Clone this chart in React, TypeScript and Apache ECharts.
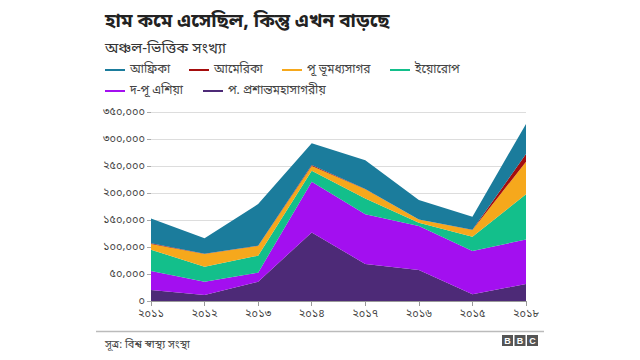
import React, { useEffect, useRef } from "react";
import * as echarts from "echarts";

const years = ["২০১১", "২০১২", "২০১৩", "২০১৪", "২০১৭", "২০১৬", "২০১৫", "২০১৮"];
const yTickLabels = ["০", "৫০,০০০", "১০০,০০০", "১৫০,০০০", "২০০,০০০", "২৫০,০০০", "৩০০,০০০", "৩৫০,০০০"];

const pacific = [20400, 11000, 35800, 127000, 68500, 57400, 12300, 31500];
const seAsia = [35200, 24800, 16700, 94000, 92000, 81600, 80300, 82500];
const europe = [39400, 27800, 31500, 20000, 29500, 6000, 26400, 83600];
const eastMed = [10600, 23400, 17900, 9000, 17000, 6000, 12500, 60400];
const americas = [1200, 500, 500, 2000, 600, 100, 500, 14000];
const africa = [46000, 28500, 77000, 40000, 53000, 36000, 24000, 56000];

const names = {
  africa: "আফ্রিকা",
  americas: "আমেরিকা",
  eastMed: "পূ ভূমধ্যসাগর",
  europe: "ইয়োরোপ",
  seAsia: "দ-পূ এশিয়া",
  pacific: "প. প্রশান্তমহাসাগরীয়",
};

const colors = {
  africa: "#1b7c9c",
  americas: "#a50d0d",
  eastMed: "#f6a81c",
  europe: "#13bf8b",
  seAsia: "#a30ff0",
  pacific: "#4d2a77",
};

const FONT = "'Noto Sans Bengali', 'Noto Sans', sans-serif";

export default function App() {
  const ref = useRef<HTMLDivElement>(null);
  useEffect(() => {
    const chart = echarts.init(ref.current!, null, { renderer: "svg" });
    const mk = (key: keyof typeof names, data: number[]) => ({
      name: names[key],
      type: "line",
      stack: "total",
      data,
      symbol: "none",
      smooth: false,
      lineStyle: { width: 0, color: colors[key] },
      itemStyle: { color: colors[key] },
      areaStyle: { color: colors[key], opacity: 1 },
    });
    const legendItem = (key: keyof typeof names, left: number, top: number) => ({
      data: [names[key]],
      left,
      top,
      icon: "rect",
      itemWidth: 20,
      itemHeight: 2,
      itemGap: 5,
      textStyle: { fontSize: 12, color: "#444", fontFamily: FONT },
      selectedMode: false,
    });
    chart.setOption({
      animation: false,
      textStyle: { fontFamily: FONT },
      title: [
        {
          text: "হাম কমে এসেছিল, কিন্তু এখন বাড়ছে",
          left: 100,
          top: 8,
          textStyle: { fontSize: 19, fontWeight: "bold", color: "#222", fontFamily: FONT },
        },
        {
          text: "অঞ্চল-ভিত্তিক সংখ্যা",
          left: 100,
          top: 36,
          textStyle: { fontSize: 15, fontWeight: "normal", color: "#333", fontFamily: FONT },
        },
        {
          text: "সূত্র: বিশ্ব স্বাস্থ্য সংস্থা",
          left: 100,
          top: 334,
          textStyle: { fontSize: 11, fontWeight: "normal", color: "#444", fontFamily: FONT },
        },
      ],
      legend: [
        legendItem("africa", 100, 59),
        legendItem("americas", 184, 59),
        legendItem("eastMed", 277, 59),
        legendItem("europe", 385, 59),
        legendItem("seAsia", 100, 80),
        legendItem("pacific", 198, 80),
      ],
      grid: { left: 151, right: 114, top: 112, bottom: 59 },
      xAxis: {
        type: "category",
        data: years,
        boundaryGap: false,
        axisLine: { show: true, lineStyle: { color: "#999" } },
        axisTick: { show: true, length: 5, lineStyle: { color: "#999" } },
        axisLabel: { color: "#444", fontSize: 11, margin: 7, fontFamily: FONT },
      },
      yAxis: {
        type: "value",
        min: 0,
        max: 350000,
        interval: 50000,
        axisLine: { show: false },
        axisTick: { show: true, length: 4, lineStyle: { color: "#aaa" } },
        splitLine: { lineStyle: { color: "#ddd", width: 1 } },
        axisLabel: {
          color: "#444",
          fontSize: 11,
          margin: 6,
          fontFamily: FONT,
          formatter: (v: number) => yTickLabels[Math.round(v / 50000)] ?? "",
        },
      },
      series: [
        mk("pacific", pacific),
        mk("seAsia", seAsia),
        mk("europe", europe),
        mk("eastMed", eastMed),
        mk("americas", americas),
        mk("africa", africa),
      ],
      graphic: [
        { type: "line", shape: { x1: 96, y1: 331.5, x2: 544, y2: 331.5 }, style: { stroke: "#bbb", lineWidth: 1.5 } },
        { type: "rect", shape: { x: 502, y: 335, width: 11, height: 11 }, style: { fill: "#555" } },
        { type: "rect", shape: { x: 514.5, y: 335, width: 11, height: 11 }, style: { fill: "#555" } },
        { type: "rect", shape: { x: 527, y: 335, width: 11, height: 11 }, style: { fill: "#555" } },
        { type: "text", x: 507.5, y: 341, style: { text: "B", fill: "#fff", font: "bold 9px Arial, sans-serif", textAlign: "center", textVerticalAlign: "middle" } },
        { type: "text", x: 520, y: 341, style: { text: "B", fill: "#fff", font: "bold 9px Arial, sans-serif", textAlign: "center", textVerticalAlign: "middle" } },
        { type: "text", x: 532.5, y: 341, style: { text: "C", fill: "#fff", font: "bold 9px Arial, sans-serif", textAlign: "center", textVerticalAlign: "middle" } },
      ],
    });
    return () => chart.dispose();
  }, []);
  return <div ref={ref} style={{ width: 640, height: 360, position: "absolute", left: 0, top: 0 }} />;
}
